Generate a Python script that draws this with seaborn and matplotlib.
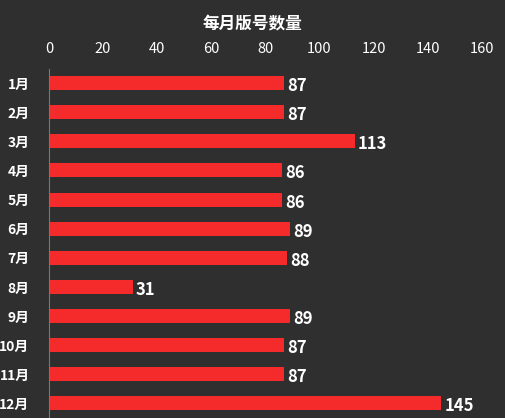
import matplotlib
matplotlib.use('Agg')
import matplotlib.pyplot as plt
import seaborn as sns
import pandas as pd

months = ['1月', '2月', '3月', '4月', '5月', '6月', '7月', '8月', '9月', '10月', '11月', '12月']
counts = [87, 87, 113, 86, 86, 89, 88, 31, 89, 87, 87, 145]
x_ticks = [0, 20, 40, 60, 80, 100, 120, 140, 160]

bg = '#2f2f2f'
bar_color = '#f52b2b'

sns.set_theme(style='dark')
plt.rcParams['font.family'] = ['Noto Sans CJK SC', 'DejaVu Sans']

df = pd.DataFrame({'month': months, 'count': counts})

fig = plt.figure(figsize=(5.05, 4.18), dpi=100, facecolor=bg)
ax = fig.add_axes([0.097, 0.0, 0.857, 0.836])
ax.set_facecolor(bg)

sns.barplot(data=df, x='count', y='month', orient='h', color=bar_color,
            width=0.48, saturation=1, linewidth=0, ax=ax)

# value labels at bar ends
for i, v in enumerate(counts):
    ax.text(v + 1.2, i + 0.1, str(v), color='white', fontsize=12,
            fontweight='bold', va='center', ha='left')

ax.set_xlim(0, 160)
ax.set_ylim(11.5, -0.5)
ax.set_xticks(x_ticks)
ax.xaxis.tick_top()
ax.tick_params(axis='x', colors='white', labelsize=10.5, length=0, pad=9)
ax.tick_params(axis='y', colors='white', labelsize=10, length=0, pad=14)
for lbl in ax.get_yticklabels():
    lbl.set_fontweight('bold')
ax.set_xlabel('')
ax.set_ylabel('')
ax.grid(False)

for side in ['top', 'right', 'bottom']:
    ax.spines[side].set_visible(False)
ax.spines['left'].set_color('#6b7a88')
ax.spines['left'].set_linewidth(0.8)

fig.text(0.5, 0.945, '每月版号数量', color='white', fontsize=12,
         fontweight='bold', ha='center', va='center')

fig.savefig('out.png', dpi=100, facecolor=bg)
